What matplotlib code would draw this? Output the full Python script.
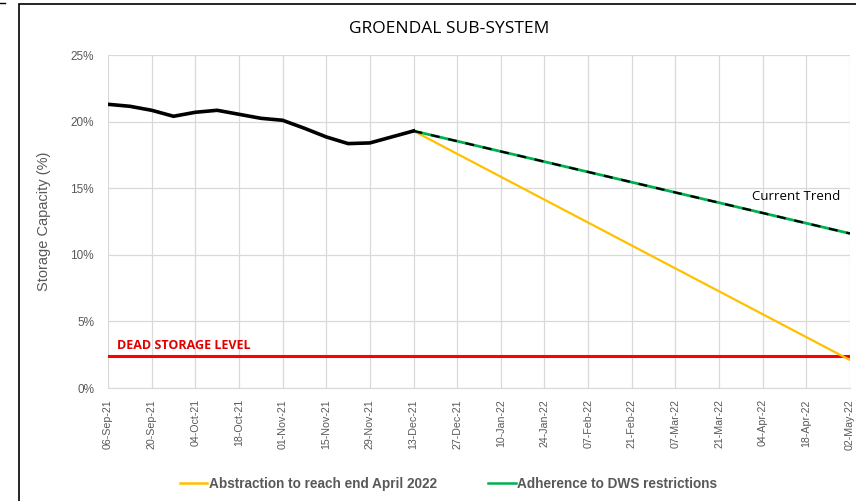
import numpy as np
import pandas as pd
import matplotlib
matplotlib.use("Agg")
import matplotlib.pyplot as plt
import matplotlib.dates as mdates
from matplotlib.lines import Line2D
from matplotlib.patches import Rectangle

plt.rcParams["font.family"] = ["Liberation Sans", "DejaVu Sans"]

# observed weekly storage (%)
obs_dates = pd.date_range("2021-09-06", "2021-12-13", freq="7D")
obs_values = [21.3, 21.15, 20.85, 20.4, 20.7, 20.85, 20.55, 20.25, 20.1,
              19.5, 18.85, 18.35, 18.4, 18.85, 19.3]

# projections from last observation to end of period
proj_dates = pd.to_datetime(["2021-12-13", "2022-05-02"])
trend_values = [19.3, 11.6]
abstraction_values = [19.3, 2.1]

dead_storage = 2.4
x_start = pd.Timestamp("2021-09-06")
x_end = pd.Timestamp("2022-05-02")
tick_dates = pd.date_range(x_start, x_end, freq="14D")

grey = "#595959"
yellow = "#FFC000"
green = "#00B050"
red = "#FF0000"

fig = plt.figure(figsize=(8.56, 5.01), dpi=100)
ax = fig.add_axes([0.1262, 0.2255, 0.8668, 0.6647])

ax.plot([x_start, x_end], [dead_storage, dead_storage], color=red, lw=2.2, zorder=3)
ax.plot(proj_dates, abstraction_values, color=yellow, lw=1.6, zorder=4)
ax.plot(proj_dates, trend_values, color=green, lw=2.0, zorder=4)
ax.plot(proj_dates, trend_values, color="black", lw=1.6, ls=(0, (4, 4)), zorder=5)
ax.plot(obs_dates, obs_values, color="black", lw=2.6, zorder=6,
        solid_joinstyle="round")

ax.set_xlim(x_start, x_end)
ax.set_ylim(0, 25)
ax.set_xticks(tick_dates)
ax.xaxis.set_major_formatter(mdates.DateFormatter("%d-%b-%y"))
ax.set_yticks(np.arange(0, 26, 5))
ax.set_yticklabels([f"{v}%" for v in range(0, 26, 5)])
ax.tick_params(axis="x", rotation=90, labelsize=7.7, colors=grey, length=0, pad=8)
ax.tick_params(axis="y", labelsize=8.5, colors=grey, length=0, pad=10)
ax.grid(True, color="#D9D9D9", lw=0.9)
ax.set_axisbelow(True)
for s in ax.spines.values():
    s.set_visible(False)
ax.spines["bottom"].set_visible(True)
ax.spines["bottom"].set_color("#D9D9D9")

ax.set_ylabel("Storage Capacity (%)", fontsize=10.5, color=grey, labelpad=14)

ax.text(pd.Timestamp("2021-09-09"), 2.95, "DEAD STORAGE LEVEL", color="#E00000",
        fontsize=9, fontweight="bold", family=["Open Sans", "DejaVu Sans"])
ax.text(pd.Timestamp("2022-04-29"), 14.15, "Current Trend", color="black",
        fontsize=9.5, ha="right", family=["Open Sans", "DejaVu Sans"])

fig.text(0.525, 0.943, "GROENDAL SUB-SYSTEM", ha="center", va="center",
         fontsize=12.5, family=["Open Sans", "DejaVu Sans"])

handles = [Line2D([], [], color=yellow, lw=1.8), Line2D([], [], color=green, lw=1.8)]
fig.legend(handles, ["Abstraction to reach end April 2022", "Adherence to DWS restrictions"],
           loc="center", bbox_to_anchor=(0.524, 0.034), ncol=2, frameon=False,
           prop={"size": 9.8, "weight": "bold"}, labelcolor=grey,
           handlelength=2.0, handletextpad=0.1, columnspacing=3.8)

# outer chart frame (left and top edges visible)
fig.patches.append(Rectangle((19 / 856, -0.1), 1.2, 1.1 - 4 / 501,
                             transform=fig.transFigure, fill=False,
                             edgecolor="black", lw=1.2))
fig.lines.append(Line2D([0, 5 / 856], [1 - 3 / 501, 1 - 3 / 501],
                        transform=fig.transFigure, color="black", lw=1))

fig.savefig("out.png", dpi=100)
